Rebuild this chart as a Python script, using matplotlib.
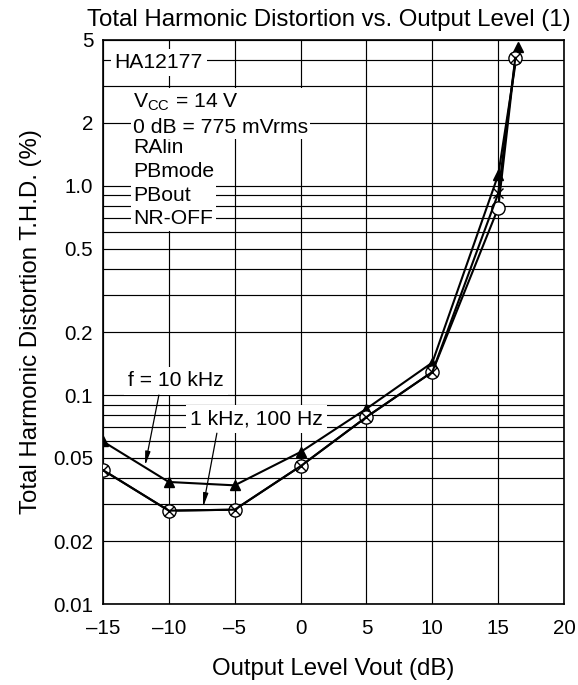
import numpy as np
import matplotlib.pyplot as plt
from matplotlib.ticker import FixedLocator, LogLocator, NullFormatter

plt.rcParams['font.family'] = ['Liberation Sans', 'DejaVu Sans']
plt.rcParams['mathtext.fontset'] = 'custom'
plt.rcParams['mathtext.rm'] = 'Liberation Sans'
plt.rcParams['axes.unicode_minus'] = True

vout_10k = [-15, -10, -5, 0, 5, 10, 15, 16.5]
thd_10k = [0.060, 0.0384, 0.0370, 0.0534, 0.086, 0.143, 1.13, 4.6]
vout_low = [-15, -10, -5, 0, 5, 10, 15, 16.3]
thd_1k = [0.0438, 0.0280, 0.0283, 0.0457, 0.0785, 0.129, 0.92, 4.1]
thd_100 = [0.0438, 0.0280, 0.0283, 0.0457, 0.0785, 0.129, 0.785, 4.1]

xticks = [-15, -10, -5, 0, 5, 10, 15, 20]
yticks = [0.01, 0.02, 0.05, 0.1, 0.2, 0.5, 1.0, 2, 5]
ytick_labels = ["0.01", "0.02", "0.05", "0.1", "0.2", "0.5", "1.0", "2", "5"]

fs_lab = 17.3
fs_tick = 14.8
fs_txt = 15.2

fig = plt.figure(figsize=(5.78, 6.85), dpi=100)
ax = fig.add_axes([0.178, 0.118, 0.798, 0.824])

ax.set_yscale('log')
ax.set_xlim(-15, 20)
ax.set_ylim(0.01, 5)
ax.set_xticks(xticks)
ax.set_xticklabels([f"{t}".replace("-", "\u2013") for t in xticks])
ax.yaxis.set_major_locator(FixedLocator(yticks))
ax.set_yticklabels(ytick_labels)
ax.yaxis.set_minor_locator(LogLocator(base=10, subs=np.arange(2, 10)))
ax.yaxis.set_minor_formatter(NullFormatter())
ax.tick_params(which='both', length=0, labelsize=fs_tick)
ax.tick_params(axis='x', pad=11)
ax.tick_params(axis='y', pad=7)

ax.set_axisbelow(True)
ax.grid(which='both', color='black', lw=0.85)
for s in ax.spines.values():
    s.set_linewidth(1.2)

ax.plot(vout_10k, thd_10k, color='black', lw=1.5, marker='^', ms=7.5, zorder=5)
ax.plot(vout_low, thd_100, color='black', lw=1.5, marker='o', ms=9.5,
        mfc='white', mec='black', mew=1.0, zorder=5)
ax.plot(vout_low, thd_1k, color='black', lw=1.5, marker='x', ms=7,
        mew=1.0, zorder=6)

box = dict(facecolor='white', edgecolor='none', boxstyle='square,pad=0.2')
tight = dict(facecolor='white', edgecolor='none', boxstyle='square,pad=0.1')
ax.text(-14.1, 3.88, "HA12177", fontsize=fs_txt, va='center', ha='left', bbox=box)
ax.text(-12.7, 2.2, "V$_{\\mathrm{CC}}$ = 14 V\n0 dB = 775 mVrms", fontsize=fs_txt,
        va='center', ha='left', linespacing=1.3, bbox=tight, zorder=4)
ax.text(-12.7, 1.03, "RAlin\nPBmode\nPBout\nNR-OFF", fontsize=fs_txt,
        va='center', ha='left', linespacing=1.32, bbox=tight, zorder=3)

ax.text(-13.1, 0.117, "f = 10 kHz", fontsize=fs_txt, va='center', ha='left', bbox=box)
ax.text(-8.4, 0.0767, "1 kHz, 100 Hz", fontsize=fs_txt, va='center', ha='left', bbox=box)

arrow = dict(arrowstyle='-|>,head_length=0.8,head_width=0.15', color='black',
             lw=0.9, shrinkA=0, shrinkB=0)
ax.annotate("", xy=(-11.8, 0.046), xytext=(-10.75, 0.1), arrowprops=arrow)
ax.annotate("", xy=(-7.4, 0.0291), xytext=(-6.35, 0.0657), arrowprops=arrow)

ax.set_title("Total Harmonic Distortion vs. Output Level (1)", fontsize=fs_lab,
             pad=10, x=0.49)
ax.set_xlabel("Output Level Vout (dB)", fontsize=fs_lab, labelpad=14)
ax.set_ylabel("Total Harmonic Distortion T.H.D. (%)", fontsize=fs_lab, labelpad=8)

fig.savefig("out.png", dpi=100)
